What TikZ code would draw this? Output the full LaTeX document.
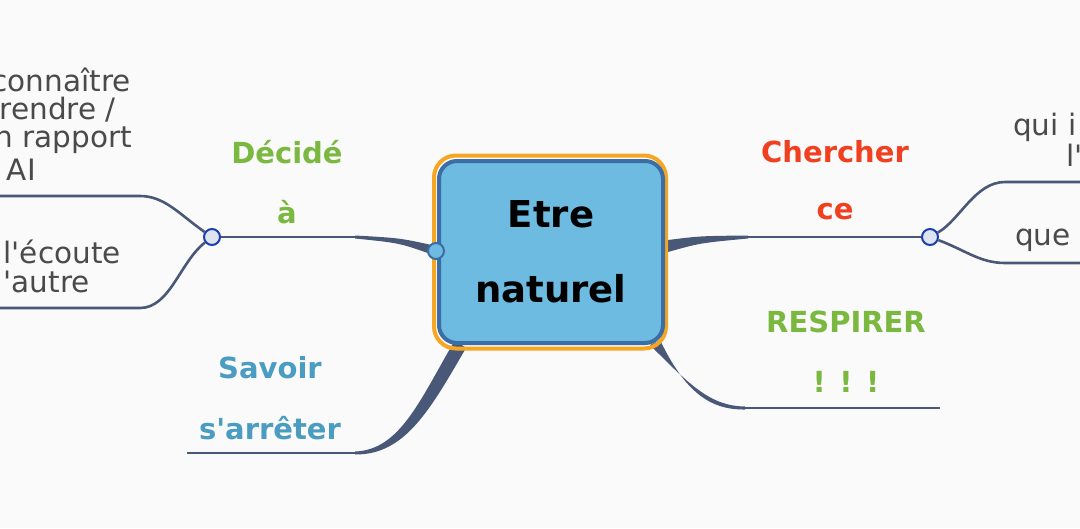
\documentclass[tikz,border=0pt]{standalone}
\usepackage{fontspec}
\setmainfont{DejaVu Sans}[Ligatures=TeXOff]
\definecolor{bg}{HTML}{FAFAFB}
\definecolor{ln}{HTML}{4A5878}
\definecolor{orng}{HTML}{F5A623}
\definecolor{bfill}{HTML}{6DBBE0}
\definecolor{bbord}{HTML}{3A6EA5}
\definecolor{grn}{HTML}{7AB840}
\definecolor{red}{HTML}{F04020}
\definecolor{blu}{HTML}{4A9CC0}
\definecolor{leaf}{HTML}{4A4A4A}
\definecolor{cfill}{HTML}{DDE3EF}
\definecolor{cbord}{HTML}{1A3FB0}
\begin{document}
\begin{tikzpicture}[x=1pt,y=-1pt,
  br/.style={font=\fontsize{29}{30}\selectfont\bfseries,inner sep=0},
  lf/.style={font=\fontsize{29.5}{30}\selectfont,text=leaf,inner sep=0},
  thin/.style={draw=ln,line width=2.6pt},
  knob/.style={circle,draw=cbord,fill=cfill,line width=2pt,minimum size=16pt,inner sep=0}]
\fill[bg] (0,0) rectangle (1080,528);
\useasboundingbox (0,0) rectangle (1080,528);
\clip (0,0) rectangle (1080,528);
% tapers
\fill[ln] (436,246) .. controls (400,238) .. (355,235.5) -- (355,238.5) .. controls (400,243) .. (436,256) -- cycle;
\fill[ln] (668,240) .. controls (700,236) .. (748,235.5) -- (748,238.5) .. controls (700,243) .. (668,252) -- cycle;
\fill[ln] (455,340) .. controls (420,400) and (400,450) .. (355,451.5) -- (355,454.5) .. controls (405,455) and (430,410) .. (466,348) -- cycle;
\fill[ln] (650,345) .. controls (690,385) and (710,406) .. (745,406.5) -- (745,409.5) .. controls (710,410) and (685,392) .. (660,340) -- cycle;
% center box
\node[draw=orng,line width=4pt,rounded corners=22pt,minimum width=232pt,minimum height=193pt] (outer) at (550,252) {};
\node[draw=bbord,fill=bfill,line width=4pt,rounded corners=18pt,minimum width=224pt,minimum height=182pt,align=center,font=\fontsize{37}{75}\selectfont\bfseries] (center) at (551,252) {Etre\\naturel};
% left branch
\coordinate (l1) at (355,237);
\node[knob] (kl) at (212,237) {};
\draw[thin] (l1) -- (kl);
\coordinate (la) at (140,196); \coordinate (lb) at (140,308);
\draw[thin] (kl) .. controls (180,215) and (165,196) .. (la) -- (0,196);
\draw[thin] (kl) .. controls (180,262) and (170,308) .. (lb) -- (0,308);
\node[br,text=grn] (dec1) at (287,152) {Décidé};
\node[br,text=grn] (dec2) at (287,212) {à};
\node[lf,anchor=east] (t1) at (131,80) {connaître};
\node[lf,anchor=east] (t2) at (116,110) {rendre /};
\node[lf,anchor=east] (t3) at (132,140) {n rapport};
\node[lf,anchor=east] (t4) at (36,170) {AI};
\node[lf,anchor=east] (t5) at (121,252) {l'écoute};
\node[lf,anchor=east] (t6) at (90,282) {'autre};
% right branch
\coordinate (r1) at (748,237);
\node[knob] (kr) at (930,237) {};
\draw[thin] (r1) -- (kr);
\draw[thin] (kr) .. controls (960,220) and (975,182) .. (1005,182) -- (1080,182);
\draw[thin] (kr) .. controls (965,250) and (980,263) .. (1005,263) -- (1080,263);
\node[br,text=red] (ch1) at (835,152) {Chercher};
\node[br,text=red] (ch2) at (835,212) {ce};
\node[lf,anchor=west] (q1) at (1013,127) {qui i};
\node[lf,anchor=west] (q2) at (1066,155) {l'};
\node[lf,anchor=west] (q3) at (1015,240) {que};
% lower left
\draw[thin] (355,453) -- (187,453);
\node[br,text=blu] (sa1) at (270,368) {Savoir};
\node[br,text=blu] (sa2) at (270,428) {s'arrêter};
% lower right
\draw[thin] (745,408) -- (940,408);
\node[br,text=grn] (re1) at (846,322) {RESPIRER};
\node[br,text=grn] (re2) at (846,382) {! ! !};
% small knob
\node[circle,draw=bbord,fill=bfill,line width=2pt,minimum size=16pt,inner sep=0] (kc) at (436,251) {};
\end{tikzpicture}
\end{document}
